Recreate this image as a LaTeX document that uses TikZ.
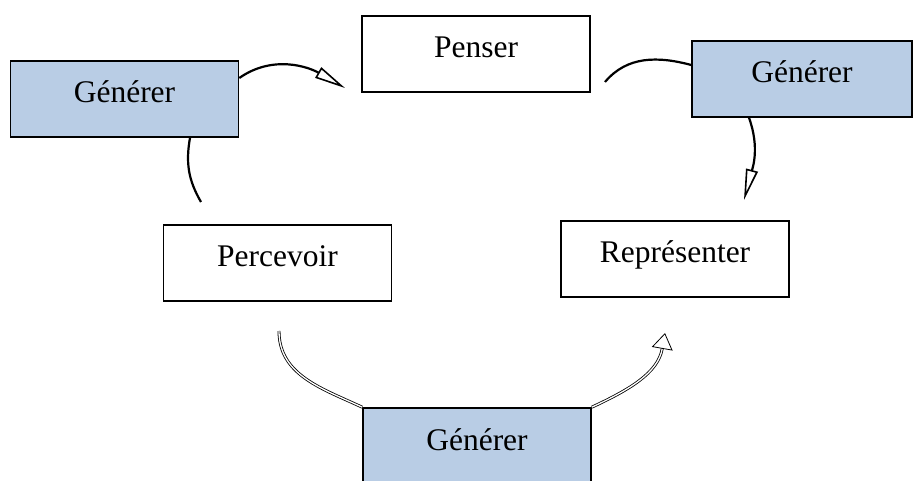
\documentclass[tikz,border=0pt]{standalone}
\usepackage{fontspec}
\setmainfont{Liberation Serif}
\usetikzlibrary{arrows.meta}
\definecolor{boxblue}{HTML}{B9CDE5}
\begin{document}
\begin{tikzpicture}[x=1pt,y=1pt,
  box/.style={draw=black, line width=1.6pt, minimum width=228pt, minimum height=76pt,
    inner sep=0pt, text height=24pt, text depth=16pt, font=\fontsize{31.5}{38}\selectfont},
  gen/.style={box, fill=boxblue},
  conn/.style={line width=2.2pt},
  openhead/.style={-{Triangle[open,length=31pt,width=12pt,line width=1.6pt,fill=white]}},
  dconn/.style={double, double distance=1.3pt, line width=0.8pt}]
\useasboundingbox (0,0) rectangle (914,480);

\node[box] (penser) at (476,426) {Penser};
\node[gen] (gtl) at (124.5,381) {Générer};
\node[gen, minimum width=220pt] (gtr) at (802,401) {Générer};
\node[box] (perc) at (277.5,217) {Percevoir};
\node[box] (repr) at (675,221) {Représenter};
\node[gen] (gbot) at (477,34) {Générer};

\coordinate (a1) at (345,392);
\coordinate (c2) at (201,278);
\coordinate (c3) at (605,398);
\coordinate (a4) at (744,280);
\coordinate (c5) at (279,149);
\coordinate (a6) at (665,147);

\draw[conn, openhead] ([yshift=21pt]gtl.east) to[out=35,in=150] (a1);
\draw[conn] ([xshift=65.5pt]gtl.south) to[out=-100,in=120] (c2);
\draw[conn] (c3) to[out=50,in=165] ([yshift=14pt]gtr.west);
\draw[conn, openhead] ([xshift=-53pt]gtr.south) to[out=-70,in=75] (a4);
\draw[dconn] (c5) to[out=-90,in=155] (gbot.north west);
\draw[dconn, -{Triangle[open,length=16pt,width=21pt]}] (gbot.north east) to[out=25,in=-100] (a6);
\end{tikzpicture}
\end{document}
